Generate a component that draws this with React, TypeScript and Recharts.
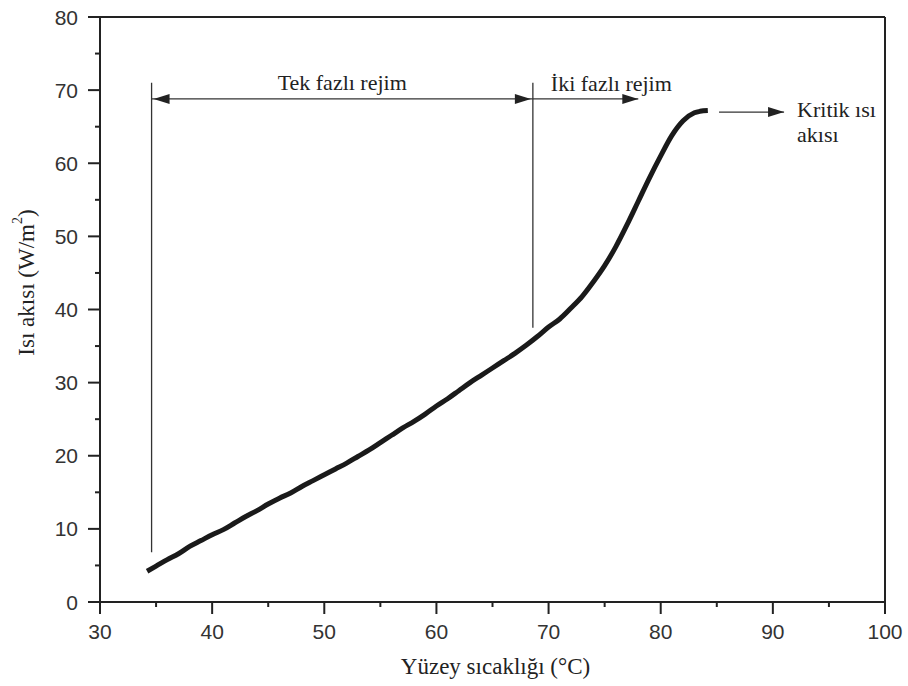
import React from "react";
import { LineChart, Line, XAxis, YAxis, ReferenceLine } from "recharts";

// surface temperature (°C) and heat flux (W/m²)
const temps = [
  34.2, 35, 36, 37, 38, 39, 40, 41, 42, 43, 44, 45, 46, 47, 48, 49, 50, 51, 52, 53,
  54, 55, 56, 57, 58, 59, 60, 61, 62, 63, 64, 65, 66, 67, 68, 69, 70, 71, 72, 73,
  74, 75, 76, 77, 78, 79, 80, 81, 82, 83, 83.5, 84.2,
];
const fluxes = [
  4.2, 4.9, 5.8, 6.6, 7.6, 8.4, 9.2, 9.9, 10.8, 11.7, 12.5, 13.4, 14.2, 14.9, 15.8, 16.6, 17.4, 18.2, 19.0, 19.9,
  20.8, 21.8, 22.8, 23.8, 24.7, 25.7, 26.8, 27.8, 28.9, 30.0, 31.0, 32.0, 33.0, 34.0, 35.1, 36.3, 37.6, 38.7, 40.2, 41.8,
  43.8, 46.0, 48.6, 51.6, 54.8, 58.0, 61.0, 63.8, 65.8, 66.9, 67.1, 67.2,
];

const xTicks = [30, 35, 40, 45, 50, 55, 60, 65, 70, 75, 80, 85, 90, 95, 100];
const yTicks = [0, 5, 10, 15, 20, 25, 30, 35, 40, 45, 50, 55, 60, 65, 70, 75, 80];

// regime boundaries (vertical marker lines)
const markerX = [34.6, 68.6];
const markerBottom = [6.8, 37.5];
const markerTop = 71;

// arrows
const regimeArrowY = 68.8;
const twoPhaseEnd = 78.0;
const chfArrow = { y: 67, from: 85.2, to: 91.0 };

const data = temps.map((t, i) => ({ t, q: fluxes[i] }));

const tickFont = "'Liberation Sans', Arial, sans-serif";
const serif = "'Liberation Serif', 'Times New Roman', serif";
const ink = "#222";
const noteSize = 22;

const YTick = (p: any) => {
  const { x, y, payload } = p;
  const major = payload.value % 10 === 0;
  const ax = x + 22;
  return (
    <g>
      <line x1={ax} x2={ax - (major ? 12 : 5)} y1={y} y2={y} stroke={ink} strokeWidth={2} />
      {major && (
        <text x={x} y={y} dy="0.36em" textAnchor="end" fontSize={21} fontFamily={tickFont} fill="#333">
          {payload.value}
        </text>
      )}
    </g>
  );
};

const XTick = (p: any) => {
  const { x, y, payload } = p;
  const major = payload.value % 10 === 0;
  const ay = y - 22;
  return (
    <g>
      <line x1={x} x2={x} y1={ay} y2={ay + (major ? 12 : 5)} stroke={ink} strokeWidth={2} />
      {major && (
        <text x={x} y={y} dy="0.72em" textAnchor="middle" fontSize={21} fontFamily={tickFont} fill="#333">
          {payload.value}
        </text>
      )}
    </g>
  );
};

const head = (x: number, y: number, dir: number) => (
  <polygon points={`${x},${y} ${x - dir * 16},${y - 5} ${x - dir * 16},${y + 5}`} fill={ink} />
);

const twoWayArrow = (p: any) => {
  const { x1, y1, x2, y2 } = p;
  return (
    <g>
      <line x1={x1} y1={y1} x2={x2} y2={y2} stroke="#333" strokeWidth={1.3} />
      {head(x1 + 2, y1, -1)}
      {head(x2 - 2, y2, 1)}
      <text x={(x1 + x2) / 2} y={y1 - 9} textAnchor="middle" fontSize={noteSize} fontFamily={serif} fill={ink}>
        Tek fazlı rejim
      </text>
    </g>
  );
};

const twoPhaseArrow = (p: any) => {
  const { x1, y1, x2, y2 } = p;
  return (
    <g>
      <line x1={x1} y1={y1} x2={x2} y2={y2} stroke="#333" strokeWidth={1.3} />
      {head(x2, y2, 1)}
      <text x={x1 + 18} y={y1 - 8} textAnchor="start" fontSize={noteSize} fontFamily={serif} fill={ink}>
        İki fazlı rejim
      </text>
    </g>
  );
};

const chfArrowShape = (p: any) => {
  const { x1, y1, x2, y2 } = p;
  return (
    <g>
      <line x1={x1} y1={y1} x2={x2} y2={y2} stroke="#333" strokeWidth={1.3} />
      {head(x2, y2, 1)}
      <text x={x2 + 13} y={y1 + 5} textAnchor="start" fontSize={noteSize} fontFamily={serif} fill={ink}>
        Kritik ısı
      </text>
      <text x={x2 + 13} y={y1 + 30} textAnchor="start" fontSize={noteSize} fontFamily={serif} fill={ink}>
        akısı
      </text>
    </g>
  );
};

const yLabel = (p: any) => {
  const vb = p.viewBox;
  const cx = vb.x - 14;
  const cy = vb.y + vb.height / 2 - 27;
  return (
    <text
      x={cx}
      y={cy}
      transform={`rotate(-90 ${cx} ${cy})`}
      textAnchor="middle"
      dominantBaseline="central"
      fontSize={23}
      fontFamily={serif}
      fill={ink}
    >
      Isı akısı (W/m
      <tspan fontSize={14} dy={-9}>2</tspan>
      <tspan dy={9}>)</tspan>
    </text>
  );
};

const xLabel = (p: any) => {
  const vb = p.viewBox;
  return (
    <text x={vb.x + vb.width / 2 + 3} y={vb.y + 72} textAnchor="middle" fontSize={23} fontFamily={serif} fill={ink}>
      Yüzey sıcaklığı (°C)
    </text>
  );
};

export default function App() {
  return (
    <div style={{ position: "absolute", left: 0, top: 0, background: "#fff" }}>
      <LineChart width={908} height={686} data={data} margin={{ top: 17, right: 23, bottom: 44, left: 40 }}>
        <XAxis
          type="number"
          dataKey="t"
          domain={[30, 100]}
          ticks={xTicks}
          interval={0}
          height={40}
          tickSize={12}
          tickMargin={10}
          tickLine={false}
          tick={XTick}
          axisLine={{ stroke: ink, strokeWidth: 2 }}
          label={xLabel}
        />
        <YAxis
          type="number"
          domain={[0, 80]}
          ticks={yTicks}
          interval={0}
          width={60}
          tickSize={12}
          tickMargin={10}
          tickLine={false}
          tick={YTick}
          axisLine={{ stroke: ink, strokeWidth: 2 }}
          label={yLabel}
        />
        <ReferenceLine y={80} stroke={ink} strokeWidth={2} />
        <ReferenceLine x={100} stroke={ink} strokeWidth={2} />
        {markerX.map((mx, i) => (
          <ReferenceLine
            key={mx}
            segment={[{ x: mx, y: markerBottom[i] }, { x: mx, y: markerTop }]}
            stroke="#333"
            strokeWidth={1.3}
          />
        ))}
        <ReferenceLine
          segment={[{ x: markerX[0], y: regimeArrowY }, { x: markerX[1], y: regimeArrowY }]}
          shape={twoWayArrow}
        />
        <ReferenceLine
          segment={[{ x: markerX[1], y: regimeArrowY }, { x: twoPhaseEnd, y: regimeArrowY }]}
          shape={twoPhaseArrow}
        />
        <ReferenceLine
          segment={[{ x: chfArrow.from, y: chfArrow.y }, { x: chfArrow.to, y: chfArrow.y }]}
          shape={chfArrowShape}
        />
        <Line
          type="monotone"
          dataKey="q"
          stroke="#1a1a1a"
          strokeWidth={5}
          dot={false}
          isAnimationActive={false}
        />
      </LineChart>
    </div>
  );
}
